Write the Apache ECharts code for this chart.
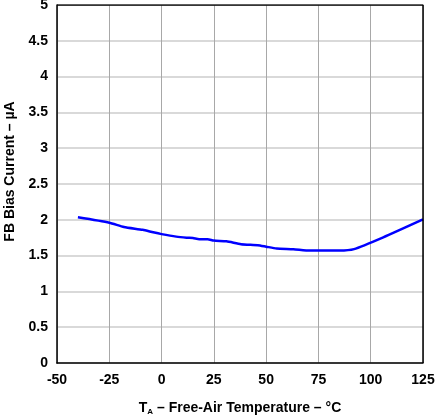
<!DOCTYPE html>
<html>
<head>
<meta charset="utf-8">
<script src="https://cdn.jsdelivr.net/npm/echarts@6/dist/echarts.min.js"></script>
<style>
  html, body { margin: 0; padding: 0; background: #fff; }
  #container { width: 435px; height: 417px; }
</style>
</head>
<body>
<div id="container"></div>
<script>
// temperature (°C) and FB bias current (µA)
const temps = [-40, -25, -18, -9, -4, 0, 7, 12, 15, 18, 22, 25, 31, 38, 46, 50, 55, 63, 71, 85, 92, 106, 125];
const current = [2.035, 1.96, 1.9, 1.86, 1.825, 1.8, 1.765, 1.75, 1.745, 1.73, 1.73, 1.71, 1.7, 1.66, 1.645, 1.625, 1.6, 1.59, 1.57, 1.57, 1.59, 1.755, 2.005];

const dom = document.getElementById("container");
const myChart = echarts.init(dom, null, { renderer: "canvas" });

const fontFamily = "Liberation Sans, Arial, sans-serif";

const option = {
  animation: false,
  grid: { left: 57, right: 12, top: 5, bottom: 54, outerBoundsMode: "none" },
  xAxis: {
    type: "value",
    min: -50,
    max: 125,
    interval: 25,
    axisLine: { show: true, onZero: false, lineStyle: { color: "#000", width: 1.5 } },
    axisTick: { show: false },
    axisLabel: {
      color: "#000",
      fontFamily: fontFamily,
      fontWeight: "bold",
      fontSize: 14,
      margin: 10,
    },
    splitLine: { show: true, lineStyle: { color: "#a8a8a8", width: 1 } },
    name: "{t|T}{s|A}{t| – Free-Air Temperature – °C}",
    nameLocation: "middle",
    nameGap: 38,
    nameTextStyle: {
      rich: {
        t: { fontFamily: fontFamily, fontWeight: "bold", fontSize: 14, color: "#000" },
        s: { fontFamily: fontFamily, fontWeight: "bold", fontSize: 8, color: "#000", verticalAlign: "bottom", padding: [7, 0, 0, 0] },
      },
    },
  },
  yAxis: {
    type: "value",
    min: 0,
    max: 5,
    interval: 0.5,
    axisLine: { show: true, onZero: false, lineStyle: { color: "#000", width: 1.5 } },
    axisTick: { show: false },
    axisLabel: {
      color: "#000",
      fontFamily: fontFamily,
      fontWeight: "bold",
      fontSize: 14,
      margin: 9,
    },
    splitLine: { show: true, lineStyle: { color: "#cccccc", width: 1.5 } },
    name: "FB Bias Current – µA",
    nameLocation: "middle",
    nameGap: 39,
    nameTextStyle: {
      color: "#000",
      fontFamily: fontFamily,
      fontWeight: "bold",
      fontSize: 14,
      padding: [0, 0, 0, 25],
    },
  },
  series: [
    {
      type: "line",
      data: temps.map((t, i) => [t, current[i]]),
      showSymbol: false,
      smooth: 0.2,
      lineStyle: { color: "#0000ff", width: 2.5 },
    },
    {
      // box frame on top and right
      type: "line",
      data: [[-50, 5], [125, 5], [125, 0]],
      showSymbol: false,
      silent: true,
      lineStyle: { color: "#000", width: 1.5 },
    },
  ],
};

myChart.setOption(option);
window.addEventListener("resize", myChart.resize);
</script>
</body>
</html>
